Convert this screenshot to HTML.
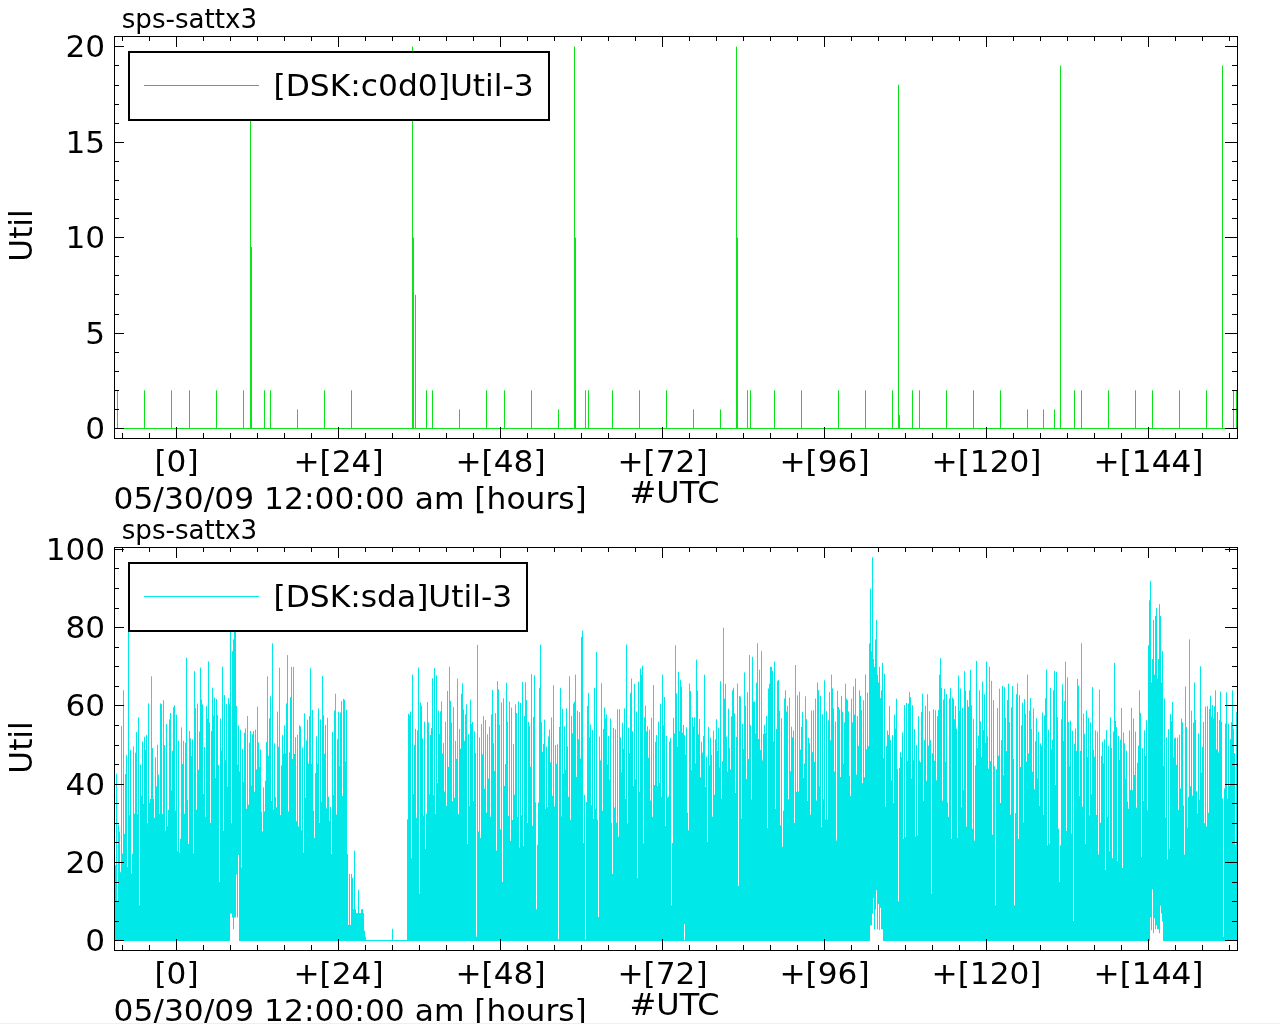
<!DOCTYPE html>
<html><head><meta charset="utf-8"><title>sps-sattx3</title>
<style>html,body{margin:0;padding:0;background:#fff;overflow:hidden}svg{display:block;will-change:transform}</style>
</head><body>
<svg width="1280" height="1024" viewBox="0 0 1280 1024" font-family="DejaVu Sans, 'Liberation Sans', sans-serif"><rect width="1280" height="1024" fill="#fff"/><path d="M115 428.5H1237M117.5 428.5V390.3M144.5 428.5V390.3M171.5 428.5V390.3M189.5 428.5V390.3M216.5 428.5V390.3M243.5 428.5V390.3M250.5 428.5V103.8M264.5 428.5V390.3M270.5 428.5V390.3M297.5 428.5V409.4M324.5 428.5V390.3M351.5 428.5V390.3M412.5 428.5V46.5M415.5 428.5V294.8M426.5 428.5V390.3M432.5 428.5V390.3M459.5 428.5V409.4M486.5 428.5V390.3M504.5 428.5V390.3M531.5 428.5V390.3M558.5 428.5V409.4M574.5 428.5V46.5M585.5 428.5V390.3M588.5 428.5V390.3M612.5 428.5V390.3M639.5 428.5V390.3M666.5 428.5V390.3M693.5 428.5V409.4M720.5 428.5V409.4M736.5 428.5V46.5M747.5 428.5V390.3M750.5 428.5V390.3M774.5 428.5V390.3M801.5 428.5V390.3M838.5 428.5V390.3M865.5 428.5V390.3M892.5 428.5V390.3M898.5 428.5V84.7M912.5 428.5V390.3M919.5 428.5V390.3M946.5 428.5V390.3M973.5 428.5V390.3M1000.5 428.5V390.3M1027.5 428.5V409.4M1043.5 428.5V409.4M1054.5 428.5V409.4M1060.5 428.5V65.6M1074.5 428.5V390.3M1081.5 428.5V390.3M1108.5 428.5V390.3M1135.5 428.5V390.3M1152.5 428.5V390.3M1179.5 428.5V390.3M1206.5 428.5V390.3M1222.5 428.5V65.6M1233.5 428.5V390.3M1236.5 428.5V390.3M251.5 428.5V247.0M413.5 428.5V237.5M575.5 428.5V237.5M737.5 428.5V237.5M899.5 428.5V415.1" stroke="#0ce31a" stroke-width="1" fill="none"/><path d="M115 940.5H230M239 940.5H870M883 940.5H1150M1163 940.5H1237" stroke="#00e8e8" stroke-width="1"/><path d="M115.5 941.0V865.1M116.5 941.0V773.8M117.5 941.0V901.4M118.5 941.0V824.7M119.5 941.0V831.6M120.5 941.0V872.2M121.5 941.0V726.1M122.5 941.0V853.6M123.5 941.0V690.3M124.5 941.0V834.0M125.5 941.0V774.0M126.5 941.0V755.2M127.5 941.0V867.0M128.5 941.0V627.7M129.5 941.0V815.2M130.5 941.0V750.1M131.5 941.0V873.6M132.5 941.0V853.8M133.5 941.0V746.6M134.5 941.0V813.7M135.5 941.0V752.7M136.5 941.0V732.1M137.5 941.0V814.1M138.5 941.0V717.4M139.5 941.0V905.3M140.5 941.0V764.6M141.5 941.0V795.7M142.5 941.0V741.5M143.5 941.0V803.8M144.5 941.0V736.8M145.5 941.0V749.7M146.5 941.0V735.2M147.5 941.0V823.2M148.5 941.0V703.4M149.5 941.0V802.8M150.5 941.0V799.0M151.5 941.0V676.3M152.5 941.0V748.0M153.5 941.0V799.0M154.5 941.0V817.8M155.5 941.0V757.2M156.5 941.0V786.4M157.5 941.0V744.7M158.5 941.0V774.6M159.5 941.0V813.8M160.5 941.0V703.4M161.5 941.0V704.3M162.5 941.0V813.9M163.5 941.0V700.2M164.5 941.0V745.0M165.5 941.0V830.6M166.5 941.0V724.1M167.5 941.0V826.0M168.5 941.0V809.9M169.5 941.0V719.4M170.5 941.0V712.9M171.5 941.0V790.3M172.5 941.0V750.9M173.5 941.0V707.2M174.5 941.0V705.2M175.5 941.0V810.5M176.5 941.0V714.6M177.5 941.0V850.8M178.5 941.0V740.6M179.5 941.0V852.5M180.5 941.0V838.8M181.5 941.0V727.4M182.5 941.0V763.9M183.5 941.0V740.8M184.5 941.0V813.8M185.5 941.0V742.6M186.5 941.0V657.8M187.5 941.0V800.1M188.5 941.0V844.0M189.5 941.0V731.0M190.5 941.0V738.4M191.5 941.0V755.9M192.5 941.0V739.3M193.5 941.0V853.4M194.5 941.0V671.2M195.5 941.0V707.9M196.5 941.0V809.7M197.5 941.0V703.6M198.5 941.0V769.8M199.5 941.0V731.5M200.5 941.0V667.6M201.5 941.0V699.4M202.5 941.0V704.4M203.5 941.0V793.9M204.5 941.0V747.0M205.5 941.0V816.6M206.5 941.0V706.1M207.5 941.0V718.4M208.5 941.0V661.4M209.5 941.0V722.2M210.5 941.0V822.9M211.5 941.0V730.9M212.5 941.0V687.7M213.5 941.0V715.6M214.5 941.0V697.6M215.5 941.0V778.0M216.5 941.0V699.0M217.5 941.0V714.9M218.5 941.0V765.1M219.5 941.0V881.9M220.5 941.0V718.5M221.5 941.0V750.7M222.5 941.0V666.8M223.5 941.0V830.8M224.5 941.0V695.0M225.5 941.0V760.2M226.5 941.0V704.1M227.5 941.0V786.5M228.5 941.0V698.1M229.5 941.0V704.2M230.5 913.6V612.1M231.5 913.6V823.2M232.5 917.5V651.2M233.5 929.3V639.4M234.5 917.5V608.1M235.5 917.5V608.1M236.5 874.5V705.9M237.5 917.5V764.5M238.5 855.0V725.5M239.5 941.0V771.3M240.5 941.0V729.7M241.5 941.0V867.6M242.5 941.0V749.0M243.5 941.0V781.8M244.5 941.0V732.7M245.5 941.0V728.4M246.5 941.0V808.7M247.5 941.0V716.1M248.5 941.0V804.7M249.5 941.0V742.7M250.5 941.0V730.9M251.5 941.0V785.6M252.5 941.0V734.2M253.5 941.0V731.0M254.5 941.0V792.0M255.5 941.0V729.6M256.5 941.0V769.4M257.5 941.0V706.7M258.5 941.0V742.4M259.5 941.0V766.9M260.5 941.0V749.5M261.5 941.0V811.4M262.5 941.0V831.4M263.5 941.0V787.4M264.5 941.0V811.5M265.5 941.0V780.6M266.5 941.0V742.1M267.5 941.0V676.4M268.5 941.0V755.8M269.5 941.0V718.2M270.5 941.0V696.3M271.5 941.0V801.0M272.5 941.0V643.3M273.5 941.0V809.5M274.5 941.0V743.3M275.5 941.0V796.8M276.5 941.0V807.4M277.5 941.0V711.6M278.5 941.0V746.8M279.5 941.0V667.7M280.5 941.0V815.1M281.5 941.0V765.3M282.5 941.0V735.2M283.5 941.0V753.6M284.5 941.0V725.5M285.5 941.0V753.3M286.5 941.0V703.4M287.5 941.0V655.1M288.5 941.0V811.5M289.5 941.0V752.3M290.5 941.0V697.2M291.5 941.0V666.8M292.5 941.0V759.0M293.5 941.0V666.8M294.5 941.0V754.0M295.5 941.0V737.2M296.5 941.0V821.2M297.5 941.0V734.8M298.5 941.0V826.6M299.5 941.0V725.4M300.5 941.0V726.4M301.5 941.0V830.2M302.5 941.0V747.5M303.5 941.0V852.6M304.5 941.0V713.4M305.5 941.0V797.7M306.5 941.0V740.4M307.5 941.0V719.7M308.5 941.0V763.5M309.5 941.0V716.1M310.5 941.0V668.3M311.5 941.0V763.9M312.5 941.0V709.8M313.5 941.0V810.5M314.5 941.0V837.9M315.5 941.0V773.0M316.5 941.0V736.4M317.5 941.0V763.6M318.5 941.0V708.5M319.5 941.0V822.9M320.5 941.0V719.4M321.5 941.0V801.8M322.5 941.0V675.9M323.5 941.0V715.2M324.5 941.0V753.7M325.5 941.0V725.0M326.5 941.0V808.4M327.5 941.0V717.8M328.5 941.0V796.7M329.5 941.0V820.7M330.5 941.0V807.0M331.5 941.0V854.0M332.5 941.0V731.9M333.5 941.0V794.8M334.5 941.0V710.5M335.5 941.0V693.7M336.5 941.0V814.5M337.5 941.0V739.3M338.5 941.0V711.6M339.5 941.0V766.0M340.5 941.0V712.5M341.5 941.0V701.0M342.5 941.0V796.1M343.5 941.0V698.9M344.5 941.0V699.8M345.5 941.0V761.5M346.5 941.0V709.7M347.5 941.0V854.1M348.5 941.0V924.9M349.5 941.0V874.0M350.5 941.0V924.9M351.5 941.0V874.0M352.5 941.0V877.9M353.5 941.0V909.2M354.5 941.0V850.6M355.5 941.0V909.2M356.5 941.0V913.1M357.5 941.0V913.1M358.5 941.0V889.7M359.5 941.0V913.1M360.5 941.0V913.1M361.5 941.0V909.2M362.5 941.0V909.2M363.5 941.0V913.1M364.5 941.0V930.7M365.5 941.0V936.6M392.5 941.0V928.8M407.5 941.0V819.3M408.5 941.0V713.7M409.5 941.0V715.2M410.5 941.0V711.6M411.5 941.0V858.2M412.5 941.0V674.6M413.5 941.0V793.9M414.5 941.0V744.8M415.5 941.0V728.9M416.5 941.0V817.8M417.5 941.0V730.3M418.5 941.0V667.5M419.5 941.0V893.6M420.5 941.0V702.4M421.5 941.0V705.8M422.5 941.0V738.4M423.5 941.0V815.8M424.5 941.0V721.7M425.5 941.0V848.9M426.5 941.0V813.8M427.5 941.0V702.0M428.5 941.0V722.4M429.5 941.0V794.3M430.5 941.0V735.0M431.5 941.0V728.1M432.5 941.0V678.3M433.5 941.0V794.9M434.5 941.0V668.1M435.5 941.0V813.8M436.5 941.0V675.3M437.5 941.0V783.1M438.5 941.0V710.5M439.5 941.0V733.8M440.5 941.0V711.3M441.5 941.0V701.4M442.5 941.0V753.4M443.5 941.0V742.9M444.5 941.0V791.7M445.5 941.0V721.8M446.5 941.0V805.9M447.5 941.0V690.9M448.5 941.0V766.9M449.5 941.0V666.8M450.5 941.0V700.9M451.5 941.0V722.4M452.5 941.0V801.2M453.5 941.0V707.2M454.5 941.0V797.8M455.5 941.0V740.9M456.5 941.0V758.9M457.5 941.0V678.5M458.5 941.0V814.2M459.5 941.0V728.9M460.5 941.0V748.6M461.5 941.0V693.7M462.5 941.0V683.4M463.5 941.0V709.3M464.5 941.0V740.8M465.5 941.0V714.3M466.5 941.0V704.4M467.5 941.0V843.9M468.5 941.0V734.2M469.5 941.0V805.9M470.5 941.0V699.6M471.5 941.0V724.0M472.5 941.0V721.9M473.5 941.0V801.1M474.5 941.0V731.3M475.5 941.0V752.7M476.5 941.0V936.6M477.5 941.0V644.8M478.5 941.0V831.5M479.5 941.0V737.3M480.5 941.0V838.1M481.5 941.0V724.0M482.5 941.0V754.3M483.5 941.0V716.2M484.5 941.0V788.6M485.5 941.0V720.0M486.5 941.0V812.6M487.5 941.0V734.3M488.5 941.0V778.5M489.5 941.0V726.7M490.5 941.0V816.6M491.5 941.0V714.5M492.5 941.0V690.0M493.5 941.0V743.2M494.5 941.0V770.9M495.5 941.0V713.1M496.5 941.0V850.5M497.5 941.0V681.2M498.5 941.0V689.3M499.5 941.0V724.6M500.5 941.0V829.4M501.5 941.0V702.5M502.5 941.0V881.9M503.5 941.0V698.3M504.5 941.0V786.0M505.5 941.0V763.9M506.5 941.0V682.8M507.5 941.0V721.7M508.5 941.0V816.1M509.5 941.0V701.7M510.5 941.0V840.9M511.5 941.0V707.6M512.5 941.0V820.0M513.5 941.0V744.1M514.5 941.0V794.7M515.5 941.0V704.4M516.5 941.0V713.0M517.5 941.0V816.8M518.5 941.0V701.4M519.5 941.0V847.6M520.5 941.0V702.9M521.5 941.0V815.4M522.5 941.0V681.9M523.5 941.0V846.1M524.5 941.0V716.1M525.5 941.0V682.4M526.5 941.0V700.0M527.5 941.0V823.0M528.5 941.0V721.9M529.5 941.0V726.1M530.5 941.0V766.7M531.5 941.0V674.1M532.5 941.0V825.8M533.5 941.0V716.9M534.5 941.0V675.3M535.5 941.0V802.2M536.5 941.0V909.2M537.5 941.0V844.7M538.5 941.0V802.5M539.5 941.0V687.8M540.5 941.0V644.6M541.5 941.0V722.0M542.5 941.0V751.9M543.5 941.0V744.0M544.5 941.0V719.7M545.5 941.0V808.9M546.5 941.0V746.6M547.5 941.0V807.1M548.5 941.0V736.5M549.5 941.0V729.5M550.5 941.0V762.3M551.5 941.0V717.4M552.5 941.0V795.8M553.5 941.0V685.2M554.5 941.0V806.4M555.5 941.0V745.0M556.5 941.0V763.7M557.5 941.0V744.2M558.5 941.0V939.3M559.5 941.0V726.9M560.5 941.0V687.8M561.5 941.0V816.3M562.5 941.0V708.9M563.5 941.0V773.3M564.5 941.0V726.4M565.5 941.0V769.7M566.5 941.0V708.3M567.5 941.0V746.3M568.5 941.0V796.8M569.5 941.0V676.2M570.5 941.0V819.8M571.5 941.0V715.8M572.5 941.0V733.3M573.5 941.0V703.5M574.5 941.0V701.6M575.5 941.0V674.6M576.5 941.0V776.8M577.5 941.0V710.9M578.5 941.0V739.3M579.5 941.0V712.1M580.5 941.0V758.5M581.5 941.0V636.9M582.5 941.0V630.6M583.5 941.0V843.0M584.5 941.0V794.8M585.5 941.0V939.3M586.5 941.0V802.1M587.5 941.0V705.9M588.5 941.0V692.9M589.5 941.0V737.3M590.5 941.0V724.5M591.5 941.0V805.2M592.5 941.0V730.0M593.5 941.0V818.6M594.5 941.0V687.8M595.5 941.0V808.7M596.5 941.0V651.9M597.5 941.0V819.6M598.5 941.0V917.0M599.5 941.0V736.6M600.5 941.0V760.4M601.5 941.0V683.3M602.5 941.0V810.7M603.5 941.0V728.9M604.5 941.0V707.5M605.5 941.0V718.3M606.5 941.0V714.4M607.5 941.0V764.3M608.5 941.0V736.0M609.5 941.0V779.5M610.5 941.0V718.4M611.5 941.0V822.7M612.5 941.0V874.0M613.5 941.0V727.8M614.5 941.0V807.5M615.5 941.0V729.3M616.5 941.0V822.7M617.5 941.0V709.3M618.5 941.0V836.7M619.5 941.0V709.2M620.5 941.0V737.3M621.5 941.0V772.2M622.5 941.0V722.8M623.5 941.0V748.8M624.5 941.0V708.4M625.5 941.0V798.9M626.5 941.0V644.6M627.5 941.0V823.6M628.5 941.0V727.7M629.5 941.0V753.1M630.5 941.0V692.9M631.5 941.0V678.5M632.5 941.0V731.2M633.5 941.0V786.0M634.5 941.0V683.8M635.5 941.0V779.2M636.5 941.0V711.5M637.5 941.0V877.9M638.5 941.0V681.7M639.5 941.0V791.9M640.5 941.0V668.5M641.5 941.0V674.6M642.5 941.0V665.8M643.5 941.0V843.3M644.5 941.0V717.5M645.5 941.0V705.6M646.5 941.0V731.4M647.5 941.0V726.2M648.5 941.0V757.8M649.5 941.0V729.5M650.5 941.0V800.5M651.5 941.0V717.7M652.5 941.0V816.8M653.5 941.0V685.1M654.5 941.0V785.0M655.5 941.0V741.8M656.5 941.0V735.0M657.5 941.0V786.1M658.5 941.0V721.6M659.5 941.0V783.0M660.5 941.0V703.7M661.5 941.0V796.8M662.5 941.0V674.6M663.5 941.0V725.2M664.5 941.0V697.0M665.5 941.0V826.0M666.5 941.0V735.9M667.5 941.0V797.6M668.5 941.0V796.5M669.5 941.0V741.5M670.5 941.0V738.0M671.5 941.0V905.3M672.5 941.0V843.1M673.5 941.0V718.0M674.5 941.0V733.5M675.5 941.0V645.3M676.5 941.0V693.4M677.5 941.0V746.5M678.5 941.0V671.8M679.5 941.0V731.0M680.5 941.0V680.1M681.5 941.0V686.4M682.5 941.0V732.7M683.5 941.0V725.0M684.5 924.2V735.2M685.5 941.0V754.5M686.5 941.0V727.3M687.5 941.0V812.4M688.5 941.0V830.3M689.5 941.0V683.5M690.5 941.0V691.1M691.5 941.0V770.1M692.5 941.0V717.2M693.5 941.0V726.5M694.5 941.0V717.2M695.5 941.0V763.4M696.5 941.0V659.6M697.5 941.0V690.3M698.5 941.0V734.3M699.5 941.0V719.0M700.5 941.0V777.3M701.5 941.0V741.8M702.5 941.0V752.6M703.5 941.0V736.0M704.5 941.0V674.8M705.5 941.0V787.0M706.5 941.0V756.6M707.5 941.0V841.9M708.5 941.0V726.9M709.5 941.0V765.3M710.5 941.0V737.5M711.5 941.0V754.8M712.5 941.0V816.6M713.5 941.0V730.8M714.5 941.0V794.7M715.5 941.0V739.4M716.5 941.0V719.3M717.5 941.0V751.0M718.5 941.0V727.7M719.5 941.0V767.5M720.5 941.0V681.1M721.5 941.0V798.7M722.5 941.0V761.2M723.5 941.0V627.7M724.5 941.0V698.6M725.5 941.0V683.8M726.5 941.0V736.7M727.5 941.0V771.6M728.5 941.0V708.7M729.5 941.0V747.7M730.5 941.0V769.4M731.5 941.0V716.2M732.5 941.0V690.3M733.5 941.0V687.7M734.5 941.0V713.2M735.5 941.0V793.0M736.5 941.0V736.9M737.5 941.0V683.5M738.5 941.0V885.8M739.5 941.0V696.0M740.5 941.0V696.6M741.5 941.0V818.5M742.5 941.0V723.9M743.5 941.0V749.1M744.5 941.0V672.4M745.5 941.0V705.6M746.5 941.0V778.9M747.5 941.0V692.3M748.5 941.0V759.0M749.5 941.0V655.1M750.5 941.0V725.1M751.5 941.0V799.6M752.5 941.0V656.8M753.5 941.0V701.7M754.5 941.0V701.5M755.5 941.0V733.5M756.5 941.0V682.8M757.5 941.0V643.3M758.5 941.0V739.0M759.5 941.0V669.7M760.5 941.0V749.9M761.5 941.0V651.2M762.5 941.0V760.4M763.5 941.0V733.9M764.5 941.0V724.7M765.5 941.0V733.2M766.5 941.0V715.8M767.5 941.0V828.1M768.5 941.0V688.5M769.5 941.0V683.7M770.5 941.0V666.8M771.5 941.0V666.8M772.5 941.0V670.8M773.5 941.0V741.4M774.5 941.0V661.6M775.5 941.0V808.7M776.5 941.0V728.8M777.5 941.0V680.8M778.5 941.0V679.9M779.5 941.0V710.5M780.5 941.0V825.4M781.5 941.0V718.2M782.5 941.0V846.7M783.5 941.0V810.7M784.5 941.0V698.5M785.5 941.0V690.3M786.5 941.0V711.6M787.5 941.0V705.8M788.5 941.0V799.3M789.5 941.0V697.7M790.5 941.0V771.3M791.5 941.0V726.7M792.5 941.0V737.3M793.5 941.0V730.6M794.5 941.0V822.9M795.5 941.0V665.0M796.5 941.0V791.8M797.5 941.0V695.3M798.5 941.0V791.5M799.5 941.0V691.7M800.5 941.0V749.6M801.5 941.0V726.8M802.5 941.0V711.9M803.5 941.0V777.9M804.5 941.0V763.4M805.5 941.0V696.3M806.5 941.0V719.1M807.5 941.0V801.0M808.5 941.0V737.7M809.5 941.0V742.9M810.5 941.0V814.6M811.5 941.0V710.5M812.5 941.0V752.2M813.5 941.0V710.2M814.5 941.0V761.9M815.5 941.0V698.5M816.5 941.0V800.5M817.5 941.0V682.4M818.5 941.0V690.1M819.5 941.0V786.2M820.5 941.0V696.0M821.5 941.0V827.1M822.5 941.0V714.1M823.5 941.0V799.4M824.5 941.0V680.3M825.5 941.0V819.4M826.5 941.0V711.2M827.5 941.0V819.6M828.5 941.0V720.4M829.5 941.0V691.9M830.5 941.0V740.3M831.5 941.0V674.6M832.5 941.0V688.4M833.5 941.0V708.4M834.5 941.0V771.5M835.5 941.0V721.6M836.5 941.0V840.5M837.5 941.0V690.8M838.5 941.0V707.0M839.5 941.0V709.3M840.5 941.0V777.1M841.5 941.0V695.8M842.5 941.0V711.7M843.5 941.0V763.6M844.5 941.0V722.3M845.5 941.0V683.7M846.5 941.0V698.6M847.5 941.0V699.8M848.5 941.0V711.4M849.5 941.0V776.1M850.5 941.0V796.2M851.5 941.0V698.7M852.5 941.0V722.4M853.5 941.0V686.4M854.5 941.0V714.6M855.5 941.0V678.5M856.5 941.0V774.6M857.5 941.0V716.1M858.5 941.0V745.9M859.5 941.0V690.3M860.5 941.0V695.9M861.5 941.0V710.0M862.5 941.0V783.2M863.5 941.0V700.3M864.5 941.0V777.3M865.5 941.0V674.6M866.5 941.0V749.3M867.5 941.0V692.6M868.5 941.0V746.2M869.5 941.0V643.4M870.5 925.4V588.6M871.5 925.4V651.2M872.5 913.6V557.3M873.5 898.0V659.0M874.5 929.3V666.8M875.5 909.7V639.4M876.5 890.2V619.9M877.5 929.3V674.6M878.5 903.9V682.4M879.5 930.1V666.8M880.5 907.8V698.1M881.5 929.3V690.3M882.5 929.3V662.9M883.5 941.0V758.1M884.5 941.0V673.8M885.5 941.0V806.7M886.5 941.0V746.1M887.5 941.0V730.6M888.5 941.0V734.9M889.5 941.0V705.9M890.5 941.0V740.1M891.5 941.0V780.3M892.5 941.0V735.1M893.5 941.0V803.0M894.5 941.0V714.7M895.5 941.0V728.4M896.5 941.0V698.8M897.5 941.0V768.7M898.5 941.0V901.4M899.5 941.0V767.9M900.5 941.0V752.2M901.5 941.0V757.2M902.5 941.0V732.5M903.5 941.0V838.9M904.5 941.0V705.0M905.5 941.0V837.0M906.5 941.0V702.9M907.5 941.0V760.8M908.5 941.0V703.5M909.5 941.0V691.8M910.5 941.0V697.2M911.5 941.0V778.5M912.5 941.0V705.2M913.5 941.0V760.2M914.5 941.0V729.0M915.5 941.0V836.6M916.5 941.0V744.9M917.5 941.0V835.4M918.5 941.0V716.2M919.5 941.0V760.4M920.5 941.0V762.2M921.5 941.0V711.9M922.5 941.0V693.6M923.5 941.0V800.9M924.5 941.0V740.2M925.5 941.0V705.8M926.5 941.0V780.8M927.5 941.0V694.2M928.5 941.0V745.7M929.5 941.0V711.2M930.5 941.0V740.2M931.5 941.0V893.6M932.5 941.0V753.2M933.5 941.0V709.3M934.5 941.0V760.7M935.5 941.0V710.2M936.5 941.0V780.3M937.5 941.0V716.2M938.5 941.0V710.0M939.5 941.0V674.6M940.5 941.0V658.1M941.5 941.0V688.0M942.5 941.0V800.6M943.5 941.0V699.6M944.5 941.0V688.7M945.5 941.0V761.8M946.5 941.0V694.2M947.5 941.0V802.2M948.5 941.0V816.8M949.5 941.0V698.4M950.5 941.0V688.2M951.5 941.0V838.8M952.5 941.0V697.5M953.5 941.0V699.0M954.5 941.0V719.2M955.5 941.0V706.1M956.5 941.0V728.6M957.5 941.0V837.7M958.5 941.0V675.5M959.5 941.0V710.6M960.5 941.0V688.5M961.5 941.0V807.4M962.5 941.0V707.9M963.5 941.0V789.8M964.5 941.0V671.2M965.5 941.0V690.3M966.5 941.0V826.5M967.5 941.0V700.1M968.5 941.0V706.7M969.5 941.0V690.3M970.5 941.0V670.0M971.5 941.0V705.2M972.5 941.0V828.8M973.5 941.0V719.2M974.5 941.0V840.6M975.5 941.0V765.5M976.5 941.0V660.9M977.5 941.0V747.9M978.5 941.0V735.7M979.5 941.0V690.3M980.5 941.0V721.3M981.5 941.0V756.9M982.5 941.0V681.5M983.5 941.0V730.0M984.5 941.0V694.2M985.5 941.0V742.7M986.5 941.0V661.5M987.5 941.0V736.2M988.5 941.0V768.7M989.5 941.0V666.8M990.5 941.0V761.1M991.5 941.0V680.9M992.5 941.0V834.6M993.5 941.0V700.1M994.5 941.0V766.2M995.5 941.0V905.3M996.5 941.0V769.2M997.5 941.0V708.1M998.5 941.0V755.7M999.5 941.0V688.7M1000.5 941.0V803.0M1001.5 941.0V740.1M1002.5 941.0V685.9M1003.5 941.0V775.3M1004.5 941.0V687.1M1005.5 941.0V717.6M1006.5 941.0V751.1M1007.5 941.0V700.0M1008.5 941.0V683.6M1009.5 941.0V722.0M1010.5 941.0V814.6M1011.5 941.0V707.4M1012.5 941.0V686.1M1013.5 941.0V759.0M1014.5 941.0V905.3M1015.5 941.0V813.1M1016.5 941.0V694.2M1017.5 941.0V683.4M1018.5 941.0V838.9M1019.5 941.0V695.2M1020.5 941.0V767.0M1021.5 941.0V725.3M1022.5 941.0V702.7M1023.5 941.0V822.3M1024.5 941.0V699.0M1025.5 941.0V713.8M1026.5 941.0V761.6M1027.5 941.0V674.6M1028.5 941.0V753.5M1029.5 941.0V710.7M1030.5 941.0V698.1M1031.5 941.0V728.7M1032.5 941.0V771.7M1033.5 941.0V708.5M1034.5 941.0V789.3M1035.5 941.0V741.2M1036.5 941.0V718.2M1037.5 941.0V778.2M1038.5 941.0V731.8M1039.5 941.0V805.8M1040.5 941.0V743.3M1041.5 941.0V745.8M1042.5 941.0V712.5M1043.5 941.0V814.8M1044.5 941.0V715.5M1045.5 941.0V698.2M1046.5 941.0V669.6M1047.5 941.0V845.4M1048.5 941.0V729.7M1049.5 941.0V843.6M1050.5 941.0V687.8M1051.5 941.0V749.3M1052.5 941.0V739.6M1053.5 941.0V690.3M1054.5 941.0V670.9M1055.5 941.0V784.8M1056.5 941.0V671.8M1057.5 941.0V717.2M1058.5 941.0V828.7M1059.5 941.0V881.9M1060.5 941.0V845.3M1061.5 941.0V719.3M1062.5 941.0V684.3M1063.5 941.0V741.0M1064.5 941.0V701.1M1065.5 941.0V661.7M1066.5 941.0V830.8M1067.5 941.0V677.3M1068.5 941.0V722.0M1069.5 941.0V766.2M1070.5 941.0V720.7M1071.5 941.0V833.6M1072.5 941.0V730.7M1073.5 941.0V921.0M1074.5 941.0V743.9M1075.5 941.0V728.5M1076.5 941.0V750.9M1077.5 941.0V679.0M1078.5 941.0V685.9M1079.5 941.0V796.0M1080.5 941.0V750.8M1081.5 941.0V643.3M1082.5 941.0V806.7M1083.5 941.0V713.6M1084.5 941.0V733.8M1085.5 941.0V843.9M1086.5 941.0V710.4M1087.5 941.0V757.1M1088.5 941.0V718.0M1089.5 941.0V815.4M1090.5 941.0V722.3M1091.5 941.0V794.2M1092.5 941.0V687.1M1093.5 941.0V749.6M1094.5 941.0V756.7M1095.5 941.0V730.4M1096.5 941.0V814.9M1097.5 941.0V731.6M1098.5 941.0V854.5M1099.5 941.0V689.6M1100.5 941.0V822.8M1101.5 941.0V755.8M1102.5 941.0V741.8M1103.5 941.0V763.2M1104.5 941.0V739.4M1105.5 941.0V869.9M1106.5 941.0V730.0M1107.5 941.0V816.7M1108.5 941.0V746.1M1109.5 941.0V851.2M1110.5 941.0V717.5M1111.5 941.0V747.9M1112.5 941.0V858.2M1113.5 941.0V731.5M1114.5 941.0V662.9M1115.5 941.0V720.8M1116.5 941.0V727.1M1117.5 941.0V861.1M1118.5 941.0V736.0M1119.5 941.0V759.9M1120.5 941.0V739.7M1121.5 941.0V707.9M1122.5 941.0V868.0M1123.5 941.0V732.5M1124.5 941.0V743.2M1125.5 941.0V778.7M1126.5 941.0V750.7M1127.5 941.0V801.4M1128.5 941.0V808.6M1129.5 941.0V730.5M1130.5 941.0V789.9M1131.5 941.0V707.8M1132.5 941.0V790.3M1133.5 941.0V718.5M1134.5 941.0V775.0M1135.5 941.0V731.6M1136.5 941.0V807.6M1137.5 941.0V762.8M1138.5 941.0V745.6M1139.5 941.0V690.3M1140.5 941.0V712.8M1141.5 941.0V856.9M1142.5 941.0V748.0M1143.5 941.0V801.0M1144.5 941.0V730.2M1145.5 941.0V755.8M1146.5 941.0V720.3M1147.5 941.0V810.3M1148.5 941.0V645.3M1149.5 941.0V600.3M1150.5 917.5V580.8M1151.5 930.1V682.4M1152.5 889.4V659.0M1153.5 933.2V619.9M1154.5 918.3V674.6M1155.5 929.3V616.0M1156.5 925.4V608.1M1157.5 929.3V678.5M1158.5 929.3V659.0M1159.5 933.2V604.2M1160.5 905.8V616.0M1161.5 913.6V682.4M1162.5 921.5V651.2M1163.5 941.0V765.8M1164.5 941.0V698.4M1165.5 941.0V817.5M1166.5 941.0V737.2M1167.5 941.0V859.2M1168.5 941.0V729.1M1169.5 941.0V848.6M1170.5 941.0V714.0M1171.5 941.0V721.1M1172.5 941.0V702.0M1173.5 941.0V757.2M1174.5 941.0V738.3M1175.5 941.0V737.5M1176.5 941.0V764.9M1177.5 941.0V737.6M1178.5 941.0V810.0M1179.5 941.0V734.8M1180.5 941.0V788.5M1181.5 941.0V718.5M1182.5 941.0V722.4M1183.5 941.0V805.3M1184.5 941.0V854.5M1185.5 941.0V686.4M1186.5 941.0V727.1M1187.5 941.0V827.6M1188.5 941.0V796.7M1189.5 941.0V639.4M1190.5 941.0V786.3M1191.5 941.0V710.7M1192.5 941.0V795.7M1193.5 941.0V722.5M1194.5 941.0V682.4M1195.5 941.0V719.9M1196.5 941.0V791.3M1197.5 941.0V813.5M1198.5 941.0V733.3M1199.5 941.0V799.8M1200.5 941.0V666.3M1201.5 941.0V772.5M1202.5 941.0V746.8M1203.5 941.0V722.0M1204.5 941.0V823.2M1205.5 941.0V706.6M1206.5 941.0V826.4M1207.5 941.0V706.1M1208.5 941.0V812.8M1209.5 941.0V708.9M1210.5 941.0V695.7M1211.5 941.0V716.5M1212.5 941.0V704.9M1213.5 941.0V718.3M1214.5 941.0V706.2M1215.5 941.0V690.3M1216.5 941.0V749.3M1217.5 941.0V711.9M1218.5 941.0V752.4M1219.5 941.0V720.0M1220.5 941.0V691.5M1221.5 941.0V721.6M1222.5 941.0V798.4M1223.5 941.0V936.6M1224.5 941.0V788.6M1225.5 941.0V723.6M1226.5 941.0V692.4M1227.5 941.0V798.6M1228.5 941.0V723.8M1229.5 941.0V785.6M1230.5 941.0V739.2M1231.5 941.0V722.1M1232.5 941.0V690.3M1233.5 941.0V728.6M1234.5 941.0V753.0M1235.5 941.0V844.5M1236.5 941.0V712.1" stroke="#00e8e8" stroke-width="1" fill="none"/><rect x="129" y="52" width="420" height="68" fill="#fff" stroke="#000" stroke-width="2"/><path d="M144 85.5H259" stroke="#0ce31a" stroke-width="1"/><text transform="translate(273.5 96) scale(1.044 1)" font-size="30" text-anchor="start" >[DSK:c0d0]Util-3</text><rect x="129" y="563" width="398" height="68" fill="#fff" stroke="#000" stroke-width="2"/><path d="M144 596.5H259" stroke="#00e8e8" stroke-width="1"/><text transform="translate(273.5 607) scale(1.044 1)" font-size="30" text-anchor="start" >[DSK:sda]Util-3</text><rect x="114.5" y="36.5" width="1123" height="402" fill="none" stroke="#000" stroke-width="1"/><rect x="114.5" y="547.5" width="1123" height="403" fill="none" stroke="#000" stroke-width="1"/><path d="M115 428.5h9M1237 428.5h-12M115 333.5h9M1237 333.5h-12M115 237.5h9M1237 237.5h-12M115 142.5h9M1237 142.5h-12M115 46.5h9M1237 46.5h-12M115 409.5h4M1237 409.5h-5M115 390.5h4M1237 390.5h-5M115 371.5h4M1237 371.5h-5M115 352.5h4M1237 352.5h-5M115 314.5h4M1237 314.5h-5M115 294.5h4M1237 294.5h-5M115 275.5h4M1237 275.5h-5M115 256.5h4M1237 256.5h-5M115 218.5h4M1237 218.5h-5M115 199.5h4M1237 199.5h-5M115 180.5h4M1237 180.5h-5M115 161.5h4M1237 161.5h-5M115 123.5h4M1237 123.5h-5M115 104.5h4M1237 104.5h-5M115 85.5h4M1237 85.5h-5M115 65.5h4M1237 65.5h-5M176.5 438v-11M176.5 37v10M338.5 438v-11M338.5 37v10M500.5 438v-11M500.5 37v10M662.5 438v-11M662.5 37v10M824.5 438v-11M824.5 37v10M986.5 438v-11M986.5 37v10M1148.5 438v-11M1148.5 37v10M122.5 438v-5M122.5 37v4M149.5 438v-5M149.5 37v4M203.5 438v-5M203.5 37v4M230.5 438v-5M230.5 37v4M257.5 438v-5M257.5 37v4M284.5 438v-5M284.5 37v4M311.5 438v-5M311.5 37v4M365.5 438v-5M365.5 37v4M392.5 438v-5M392.5 37v4M419.5 438v-5M419.5 37v4M446.5 438v-5M446.5 37v4M473.5 438v-5M473.5 37v4M527.5 438v-5M527.5 37v4M554.5 438v-5M554.5 37v4M581.5 438v-5M581.5 37v4M608.5 438v-5M608.5 37v4M635.5 438v-5M635.5 37v4M689.5 438v-5M689.5 37v4M716.5 438v-5M716.5 37v4M743.5 438v-5M743.5 37v4M770.5 438v-5M770.5 37v4M797.5 438v-5M797.5 37v4M851.5 438v-5M851.5 37v4M878.5 438v-5M878.5 37v4M905.5 438v-5M905.5 37v4M932.5 438v-5M932.5 37v4M959.5 438v-5M959.5 37v4M1013.5 438v-5M1013.5 37v4M1040.5 438v-5M1040.5 37v4M1067.5 438v-5M1067.5 37v4M1094.5 438v-5M1094.5 37v4M1121.5 438v-5M1121.5 37v4M1175.5 438v-5M1175.5 37v4M1202.5 438v-5M1202.5 37v4M1229.5 438v-5M1229.5 37v4" stroke="#000" stroke-width="1" fill="none"/><path d="M115 940.5h9M1237 940.5h-12M115 862.5h9M1237 862.5h-12M115 784.5h9M1237 784.5h-12M115 705.5h9M1237 705.5h-12M115 627.5h9M1237 627.5h-12M115 549.5h9M1237 549.5h-12M115 921.5h4M1237 921.5h-5M115 901.5h4M1237 901.5h-5M115 882.5h4M1237 882.5h-5M115 842.5h4M1237 842.5h-5M115 823.5h4M1237 823.5h-5M115 803.5h4M1237 803.5h-5M115 764.5h4M1237 764.5h-5M115 745.5h4M1237 745.5h-5M115 725.5h4M1237 725.5h-5M115 686.5h4M1237 686.5h-5M115 666.5h4M1237 666.5h-5M115 647.5h4M1237 647.5h-5M115 608.5h4M1237 608.5h-5M115 588.5h4M1237 588.5h-5M115 568.5h4M1237 568.5h-5M176.5 950v-11M176.5 548v10M338.5 950v-11M338.5 548v10M500.5 950v-11M500.5 548v10M662.5 950v-11M662.5 548v10M824.5 950v-11M824.5 548v10M986.5 950v-11M986.5 548v10M1148.5 950v-11M1148.5 548v10M122.5 950v-5M122.5 548v4M149.5 950v-5M149.5 548v4M203.5 950v-5M203.5 548v4M230.5 950v-5M230.5 548v4M257.5 950v-5M257.5 548v4M284.5 950v-5M284.5 548v4M311.5 950v-5M311.5 548v4M365.5 950v-5M365.5 548v4M392.5 950v-5M392.5 548v4M419.5 950v-5M419.5 548v4M446.5 950v-5M446.5 548v4M473.5 950v-5M473.5 548v4M527.5 950v-5M527.5 548v4M554.5 950v-5M554.5 548v4M581.5 950v-5M581.5 548v4M608.5 950v-5M608.5 548v4M635.5 950v-5M635.5 548v4M689.5 950v-5M689.5 548v4M716.5 950v-5M716.5 548v4M743.5 950v-5M743.5 548v4M770.5 950v-5M770.5 548v4M797.5 950v-5M797.5 548v4M851.5 950v-5M851.5 548v4M878.5 950v-5M878.5 548v4M905.5 950v-5M905.5 548v4M932.5 950v-5M932.5 548v4M959.5 950v-5M959.5 548v4M1013.5 950v-5M1013.5 548v4M1040.5 950v-5M1040.5 548v4M1067.5 950v-5M1067.5 548v4M1094.5 950v-5M1094.5 548v4M1121.5 950v-5M1121.5 548v4M1175.5 950v-5M1175.5 548v4M1202.5 950v-5M1202.5 548v4M1229.5 950v-5M1229.5 548v4" stroke="#000" stroke-width="1" fill="none"/><text transform="translate(121.7 28) scale(1.006 1)" font-size="26" text-anchor="start" >sps-sattx3</text><text transform="translate(105.2 57) scale(1.04 1)" font-size="30" text-anchor="end" >20</text><text transform="translate(105.2 153) scale(1.04 1)" font-size="30" text-anchor="end" >15</text><text transform="translate(105.2 248) scale(1.04 1)" font-size="30" text-anchor="end" >10</text><text transform="translate(105.2 344) scale(1.04 1)" font-size="30" text-anchor="end" >5</text><text transform="translate(105.2 439) scale(1.04 1)" font-size="30" text-anchor="end" >0</text><text transform="translate(176.5 472) scale(1.04 1)" font-size="30" text-anchor="middle" >[0]</text><text transform="translate(338.5 472) scale(1.04 1)" font-size="30" text-anchor="middle" >+[24]</text><text transform="translate(500.5 472) scale(1.04 1)" font-size="30" text-anchor="middle" >+[48]</text><text transform="translate(662.5 472) scale(1.04 1)" font-size="30" text-anchor="middle" >+[72]</text><text transform="translate(824.5 472) scale(1.04 1)" font-size="30" text-anchor="middle" >+[96]</text><text transform="translate(986.5 472) scale(1.04 1)" font-size="30" text-anchor="middle" >+[120]</text><text transform="translate(1148.5 472) scale(1.04 1)" font-size="30" text-anchor="middle" >+[144]</text><text transform="translate(113.5 509) scale(1.0445 1)" font-size="30" text-anchor="start" >05/30/09 12:00:00 am [hours]</text><text transform="translate(629.5 503) scale(1.065 1)" font-size="30" text-anchor="start" >#UTC</text><text transform="translate(32 235.5) rotate(-90) scale(1.0 1)" font-size="31.2" text-anchor="middle">Util</text><text transform="translate(121.7 539) scale(1.006 1)" font-size="26" text-anchor="start" >sps-sattx3</text><text transform="translate(105.2 560) scale(1.04 1)" font-size="30" text-anchor="end" >100</text><text transform="translate(105.2 638) scale(1.04 1)" font-size="30" text-anchor="end" >80</text><text transform="translate(105.2 716) scale(1.04 1)" font-size="30" text-anchor="end" >60</text><text transform="translate(105.2 795) scale(1.04 1)" font-size="30" text-anchor="end" >40</text><text transform="translate(105.2 873) scale(1.04 1)" font-size="30" text-anchor="end" >20</text><text transform="translate(105.2 951) scale(1.04 1)" font-size="30" text-anchor="end" >0</text><text transform="translate(176.5 984) scale(1.04 1)" font-size="30" text-anchor="middle" >[0]</text><text transform="translate(338.5 984) scale(1.04 1)" font-size="30" text-anchor="middle" >+[24]</text><text transform="translate(500.5 984) scale(1.04 1)" font-size="30" text-anchor="middle" >+[48]</text><text transform="translate(662.5 984) scale(1.04 1)" font-size="30" text-anchor="middle" >+[72]</text><text transform="translate(824.5 984) scale(1.04 1)" font-size="30" text-anchor="middle" >+[96]</text><text transform="translate(986.5 984) scale(1.04 1)" font-size="30" text-anchor="middle" >+[120]</text><text transform="translate(1148.5 984) scale(1.04 1)" font-size="30" text-anchor="middle" >+[144]</text><text transform="translate(113.5 1021) scale(1.0445 1)" font-size="30" text-anchor="start" >05/30/09 12:00:00 am [hours]</text><text transform="translate(629.5 1015) scale(1.065 1)" font-size="30" text-anchor="start" >#UTC</text><text transform="translate(32 747.5) rotate(-90) scale(1.0 1)" font-size="31.2" text-anchor="middle">Util</text><rect x="0" y="1023" width="1280" height="1" fill="#efefef"/></svg>
</body></html>
